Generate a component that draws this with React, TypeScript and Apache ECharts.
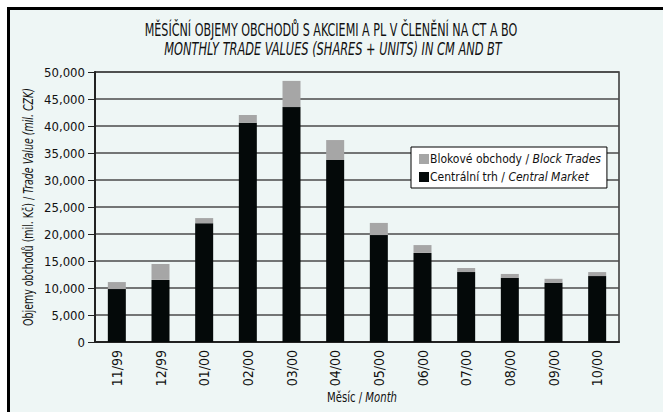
import React, { useEffect, useRef } from "react";
import * as echarts from "echarts";

const categories = ["11/99", "12/99", "01/00", "02/00", "03/00", "04/00", "05/00", "06/00", "07/00", "08/00", "09/00", "10/00"];
const centralMarket = [9800, 11500, 22000, 40600, 43500, 33700, 19800, 16500, 12950, 11850, 10950, 12200];
const blockTrades = [1300, 2950, 950, 1450, 4850, 3700, 2250, 1450, 750, 750, 750, 750];
const yTicks = [0, 5000, 10000, 15000, 20000, 25000, 30000, 35000, 40000, 45000, 50000];

const titleLine1 = "MĚSÍČNÍ OBJEMY OBCHODŮ S AKCIEMI A PL V ČLENĚNÍ NA CT A BO";
const titleLine2 = "MONTHLY TRADE VALUES (SHARES + UNITS) IN CM AND BT";
const yNameA = "Objemy obchodů (mil. Kč) / ";
const yNameB = "Trade Value (mil. CZK)";
const xNameA = "Měsíc / ";
const xNameB = "Month";

function pickFont(): string {
  const ctx = document.createElement("canvas").getContext("2d")!;
  const t = "abcdefghijklmnopqrstuvwxyz ABCDEFGHIJ 0123456789";
  const cands = ["DejaVu Sans Condensed", "Liberation Sans Narrow", "Roboto Condensed", "Open Sans Condensed"];
  for (const f of cands) {
    ctx.font = "20px monospace";
    const a = ctx.measureText(t).width;
    ctx.font = `20px '${f}', monospace`;
    const b = ctx.measureText(t).width;
    ctx.font = "20px serif";
    const c = ctx.measureText(t).width;
    ctx.font = `20px '${f}', serif`;
    const d = ctx.measureText(t).width;
    if (a !== b && c !== d) return f;
  }
  return "Liberation Sans";
}

function measure(text: string, size: number, family: string, italic = false): number {
  const ctx = document.createElement("canvas").getContext("2d")!;
  ctx.font = `${italic ? "italic " : ""}${size}px '${family}'`;
  return ctx.measureText(text).width;
}

export default function App() {
  const ref = useRef<HTMLDivElement>(null);
  useEffect(() => {
    document.body.style.margin = "0";
    const FONT = pickFont();
    const chart = echarts.init(ref.current!, null, { renderer: "svg" });

    const t1Size = 17;
    const t1Scale = 373 / measure(titleLine1, t1Size, FONT);
    const t2Scale = 338 / measure(titleLine2, t1Size, FONT, true);
    const nSize = 14;
    const yScale = 238 / (measure(yNameA, nSize, FONT) + measure(yNameB, nSize, FONT, true));
    const xScale = 70 / (measure(xNameA, nSize, FONT) + measure(xNameB, nSize, FONT, true));

    const rich = (size: number) => ({
      n: { fontFamily: FONT, fontSize: size, fill: "#111", color: "#111" },
      i: { fontFamily: FONT, fontSize: size, fontStyle: "italic", fill: "#111", color: "#111" },
    });

    chart.setOption({
      animation: false,
      backgroundColor: "#ffffff",
      graphic: [
        {
          type: "rect",
          z: -10,
          silent: true,
          shape: { x: 8.5, y: 8.5, width: 700, height: 450 },
          style: { fill: "#eef6f5", stroke: "#000", lineWidth: 3 },
        },
        {
          type: "text",
          x: 331,
          y: 30,
          scaleX: t1Scale,
          style: { text: titleLine1, fontFamily: FONT, fontSize: t1Size, fill: "#111", align: "center", verticalAlign: "middle" },
        },
        {
          type: "text",
          x: 333,
          y: 49,
          scaleX: t2Scale,
          style: { text: titleLine2, fontFamily: FONT, fontSize: t1Size, fontStyle: "italic", fill: "#111", align: "center", verticalAlign: "middle" },
        },
        {
          type: "text",
          x: 28,
          y: 207,
          rotation: Math.PI / 2,
          scaleX: yScale,
          style: { text: `{n|${yNameA}}{i|${yNameB}}`, rich: rich(nSize), align: "center", verticalAlign: "middle" },
        },
        {
          type: "text",
          x: 362,
          y: 397,
          scaleX: xScale,
          style: { text: `{n|${xNameA}}{i|${xNameB}}`, rich: rich(nSize), align: "center", verticalAlign: "middle" },
        },
      ],
      legend: {
        data: ["Blokové obchody", "Centrální trh"],
        orient: "vertical",
        left: 411,
        top: 147,
        backgroundColor: "#ffffff",
        borderColor: "#000",
        borderWidth: 1,
        padding: [6, 6, 5, 8],
        itemGap: 6,
        itemWidth: 10,
        itemHeight: 10,
        icon: "rect",
        formatter: (name: string) =>
          name === "Blokové obchody"
            ? "{n|Blokové obchody / }{i|Block Trades}"
            : "{n|Centrální trh / }{i|Central Market}",
        textStyle: {
          padding: [0, 0, 0, -4],
          rich: rich(12),
        },
      },
      grid: {
        left: 95,
        right: 44,
        top: 72,
        bottom: 70,
        show: true,
        borderColor: "#333",
        borderWidth: 1.5,
        backgroundColor: "transparent",
      },
      xAxis: {
        type: "category",
        data: categories,
        axisLine: { lineStyle: { color: "#222", width: 2 } },
        axisTick: { inside: true, length: 4, lineStyle: { color: "#222" } },
        axisLabel: { rotate: 90, fontFamily: FONT, fontSize: 14, color: "#111", margin: 8 },
      },
      yAxis: {
        type: "value",
        min: 0,
        max: 50000,
        interval: 5000,
        axisLine: { show: true, lineStyle: { color: "#222", width: 2 } },
        axisTick: { show: true, length: 7, lineStyle: { color: "#222" } },
        axisLabel: {
          fontFamily: FONT,
          fontSize: 13,
          color: "#111",
          margin: 10,
          formatter: (v: number) => (yTicks.includes(v) ? v.toLocaleString("en-US") : ""),
        },
        splitLine: { lineStyle: { color: "#4a4a4a", width: 1.5 } },
      },
      series: [
        {
          name: "Centrální trh",
          type: "bar",
          stack: "total",
          data: centralMarket,
          barWidth: 18,
          itemStyle: { color: "#040909" },
        },
        {
          name: "Blokové obchody",
          type: "bar",
          stack: "total",
          data: blockTrades,
          barWidth: 18,
          itemStyle: { color: "#a6a6a6" },
        },
      ],
    });
    return () => chart.dispose();
  }, []);
  return <div ref={ref} style={{ width: 663, height: 412 }} />;
}
